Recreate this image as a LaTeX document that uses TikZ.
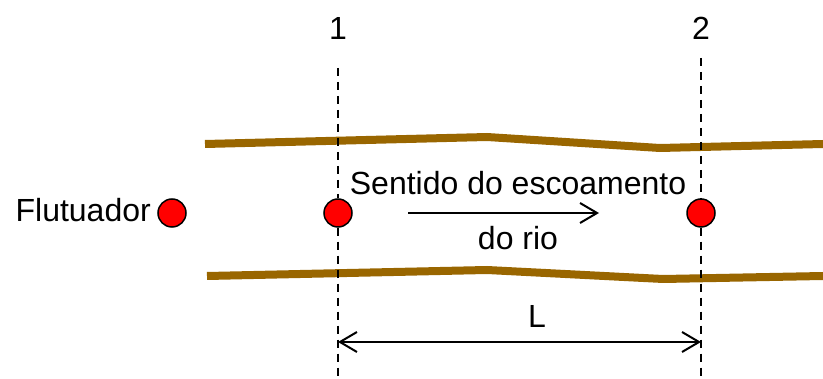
\documentclass[tikz,border=0pt]{standalone}
\usepackage{fontspec}
\setmainfont{Liberation Sans}
\usetikzlibrary{arrows.meta}
\definecolor{terra}{RGB}{153,102,0}
\begin{document}
\begin{tikzpicture}
  [x=1pt,y=-1pt,
   every node/.style={font=\fontsize{32}{38}\selectfont,inner sep=0pt},
   boia/.style={circle,fill=red,draw=black,line width=1.5pt,minimum size=28pt},
   margem/.style={line width=8pt,color=terra},
   secao/.style={line width=1.8pt,dash pattern=on 8pt off 6pt},
   seta/.style={line width=2pt,-{Straight Barb[length=17pt,width=20pt]}},
   cota/.style={line width=2pt,{Straight Barb[length=17pt,width=20pt]}-{Straight Barb[length=17pt,width=20pt]}}]
  \useasboundingbox (0,0) rectangle (823,379);

  % margens do rio
  \draw[margem] (205,144) -- (487,137) -- (660,148) -- (823,144);
  \draw[margem] (207,276) -- (487,270) -- (663,279) -- (823,276);

  \node[boia] (b0) at (172,213) {};
  \node[boia] (b1) at (338,213) {};
  \node[boia] (b2) at (701,213) {};
  \node[anchor=base east] (flut) at (151,222) {Flutuador};
  \node (n1) at (338,28) {1};
  \node (n2) at (701,28) {2};
  \node[anchor=base] (sentido) at (518,195) {Sentido do escoamento};
  \node[anchor=base] (rio) at (518,250) {do rio};
  \node[anchor=base] (comp) at (537,328) {L};

  \coordinate (s1t) at (338,68);
  \coordinate (s1b) at (338,379);
  \coordinate (s2t) at (701,58);
  \coordinate (s2b) at (701,376);
  \coordinate (fa) at (408,213);
  \coordinate (fb) at (599,213);
  \coordinate (l1) at (338,342);
  \coordinate (l2) at (701,342);

  % secoes 1 e 2
  \foreach \from/\to in {s1t/b1, b1/s1b, s2t/b2, b2/s2b}
    \draw[secao] (\from) -- (\to);

  \draw[seta] (fa) -- (fb);
  \draw[cota] (l1) -- (l2);
\end{tikzpicture}
\end{document}
